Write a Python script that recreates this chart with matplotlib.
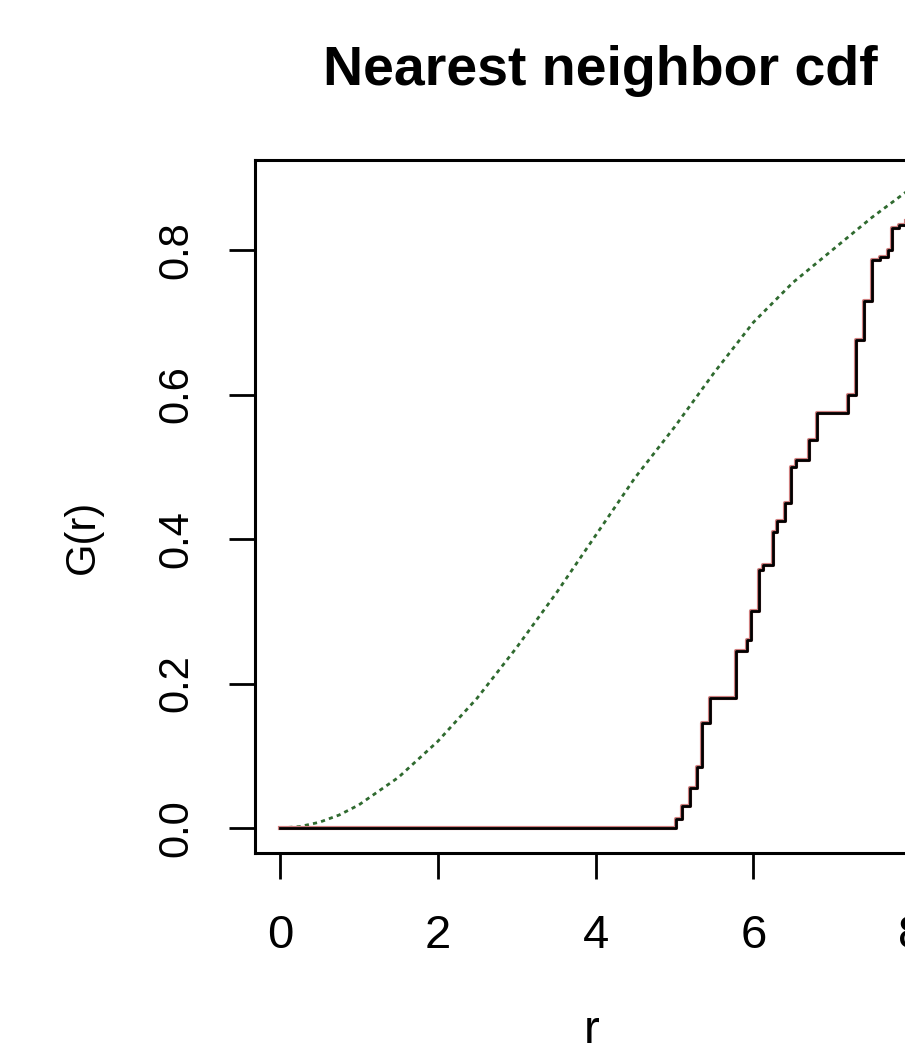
import matplotlib
matplotlib.use("Agg")
import matplotlib.pyplot as plt

# theoretical (Poisson) curve
r_theo = [0.0, 0.25, 0.5, 0.75, 1.0, 1.5, 2.0, 2.5, 3.0, 3.5, 4.0, 4.5,
          5.0, 5.5, 6.0, 6.5, 7.0, 7.5, 7.93]
g_theo = [0.0, 0.002, 0.008, 0.018, 0.032, 0.07, 0.12, 0.18, 0.25, 0.325,
          0.405, 0.485, 0.555, 0.63, 0.70, 0.755, 0.80, 0.845, 0.88]

# empirical step curve
r_emp = [0.0, 5.02, 5.10, 5.20, 5.28, 5.35, 5.45, 5.72, 5.78, 5.92, 5.97,
         6.07, 6.12, 6.25, 6.30, 6.40, 6.48, 6.54, 6.70, 6.80, 6.90, 7.20,
         7.30, 7.40, 7.50, 7.60, 7.70, 7.75, 7.85, 7.93]
g_emp = [0.0, 0.012, 0.03, 0.055, 0.085, 0.145, 0.18, 0.18, 0.245, 0.26, 0.30,
         0.357, 0.364, 0.41, 0.425, 0.45, 0.50, 0.51, 0.537, 0.575, 0.575,
         0.60, 0.675, 0.73, 0.786, 0.79, 0.80, 0.83, 0.835, 0.84]

x_ticks = [0, 2, 4, 6, 8]
y_ticks = [0.0, 0.2, 0.4, 0.6, 0.8]
y_tick_labels = ['0.0', '0.2', '0.4', '0.6', '0.8']

plt.rcParams['font.family'] = ['Liberation Sans', 'DejaVu Sans']

fig = plt.figure(figsize=(9.05, 10.53), dpi=100)
ax = fig.add_axes([255 / 905, 200 / 1053, 676 / 905, 693 / 1053])

ax.plot(r_theo, g_theo, color='#2f6a2f', lw=2.0, linestyle=(0, (1.5, 1.5)), zorder=2)
ax.plot(r_emp, g_emp, color='#d08080', lw=3.0, drawstyle='steps-post', zorder=2)
ax.plot(r_emp, g_emp, color='black', lw=2.0, drawstyle='steps-post', zorder=3)

ax.set_xlim(-0.317, 8.25)
ax.set_ylim(-0.0346, 0.9246)
ax.set_xticks(x_ticks)
ax.set_yticks(y_ticks)
ax.set_yticklabels(y_tick_labels, rotation=90, va='center')
ax.tick_params(direction='out', length=19, width=2, colors='black')
ax.tick_params(axis='x', pad=25, labelsize=34)
ax.tick_params(axis='y', pad=23, labelsize=30)
for s in ax.spines.values():
    s.set_linewidth(2.2)

ax.set_xlabel('r', fontsize=34)
ax.xaxis.set_label_coords(0.4985, -0.2880)
ax.xaxis.label.set_va('bottom')

ax.set_ylabel('G(r)', fontsize=30)
ax.yaxis.label.set_rotation_mode('default')
ax.yaxis.label.set_va('center')
ax.yaxis.set_label_coords(-0.254, 0.456)

ax.set_title('Nearest neighbor cdf', fontsize=40, fontweight='bold',
             x=0.5104, y=1.108, pad=0)

fig.savefig('out.png', dpi=100)
